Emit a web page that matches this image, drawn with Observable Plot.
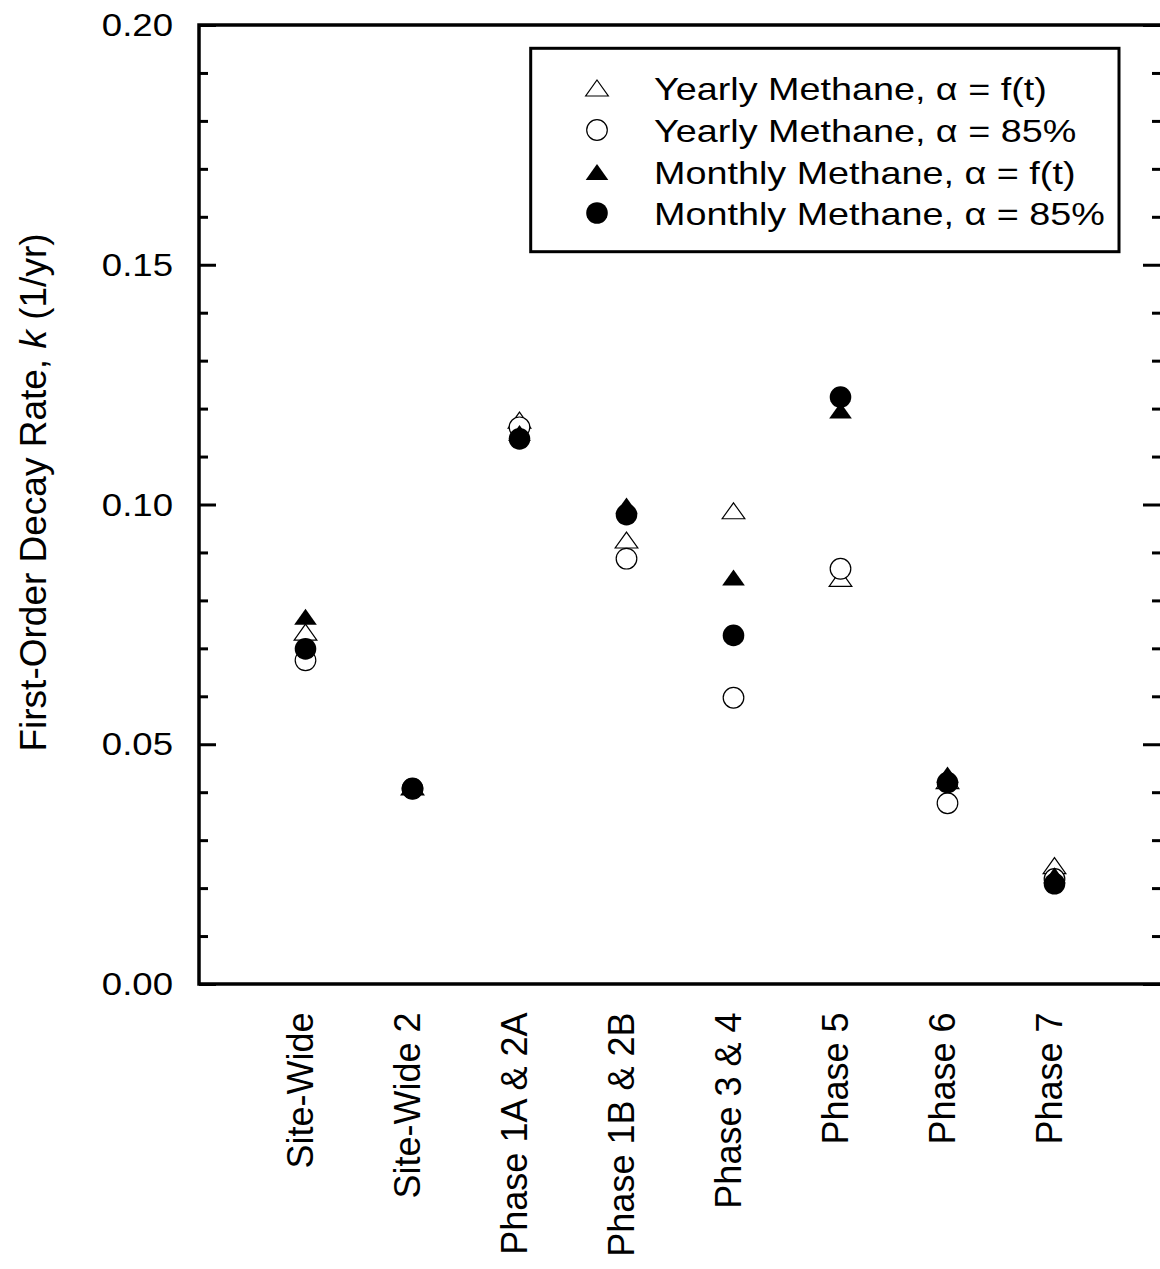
<!DOCTYPE html>
<html><head><meta charset="utf-8">
<script src="https://cdn.jsdelivr.net/npm/d3@7"></script>
<script src="https://cdn.jsdelivr.net/npm/@observablehq/plot@0.6"></script>
<style>html,body{margin:0;padding:0;background:#fff;overflow:hidden}</style>
</head><body><div id="chart"></div>
<script>
// ---- data ----
const categories = ["Site-Wide", "Site-Wide 2", "Phase 1A & 2A", "Phase 1B & 2B", "Phase 3 & 4", "Phase 5", "Phase 6", "Phase 7"];
const yearlyFt  = [0.0735, 0.0412, 0.1177, 0.0927, 0.0988, 0.0847, 0.0425, 0.0248]; // open triangle
const yearly85  = [0.0676, 0.0408, 0.1162, 0.0888, 0.0598, 0.0867, 0.0378, 0.0220]; // open circle
const monthlyFt = [0.0767, 0.0412, 0.1150, 0.0999, 0.0849, 0.1197, 0.0438, 0.0228]; // filled triangle
const monthly85 = [0.0700, 0.0409, 0.1138, 0.0980, 0.0728, 0.1225, 0.0421, 0.0210]; // filled circle
const seriesNames = ["Yearly Methane, \u03B1 = f(t)", "Yearly Methane, \u03B1 = 85%", "Monthly Methane, \u03B1 = f(t)", "Monthly Methane, \u03B1 = 85%"];
const majorTicks = [0, 0.05, 0.10, 0.15, 0.20];
const majorTickLabels = ["0.00", "0.05", "0.10", "0.15", "0.20"];
const minorTicks = [0.01, 0.02, 0.03, 0.04, 0.06, 0.07, 0.08, 0.09, 0.11, 0.12, 0.13, 0.14, 0.16, 0.17, 0.18, 0.19];
const yTitleParts = ["First-Order Decay Rate, ", "k", " (1/yr)"];

// ---- build ----
const FONT = "'Liberation Sans', Arial, Helvetica, sans-serif";
const W = 1160, H = 1269, ML = 199, MT = 25, MB = H - 984, MR = 0;
const FW = W - ML - MR;
const STRETCH = 1.18; // horizontal text in the reference is wide

const triangle = {
  draw(context, size) {
    const r = Math.sqrt(size / Math.PI);
    const w = 1.03 * r, h = 0.725 * r;
    context.moveTo(0, -h); context.lineTo(w, h); context.lineTo(-w, h); context.closePath();
  }
};
const styles = [
  {symbol: triangle, fill: "white", stroke: "black", strokeWidth: 1.2, r: 11},
  {symbol: "circle", fill: "white", stroke: "black", strokeWidth: 1.2, r: 10.3},
  {symbol: triangle, fill: "black", stroke: "none", strokeWidth: 0, r: 11},
  {symbol: "circle", fill: "black", stroke: "none", strokeWidth: 0, r: 10.8}
];
const seriesValues = [yearlyFt, yearly85, monthlyFt, monthly85];
const rows = seriesValues.map((vals, s) => categories.map((c, i) => ({category: c, k: vals[i], series: seriesNames[s]})));

function frameMark(index, scales, values, dim) {
  const g = d3.create("svg:g");
  const x0 = dim.marginLeft, x1 = dim.width - dim.marginRight;
  const yT = scales.y(0.2), yB = scales.y(0);
  g.append("path").attr("d", `M${x1 + 3},${yT}H${x0}V${yB}H${x1 + 3}`)
    .attr("fill", "none").attr("stroke", "black").attr("stroke-width", 3.5);
  return g.node();
}

function yTickLabelMark(index, scales, values, dim) {
  const g = d3.create("svg:g").attr("font-family", FONT).attr("font-size", 31).attr("fill", "black");
  majorTicks.forEach((v, i) => {
    g.append("text")
      .attr("transform", `translate(${dim.marginLeft - 26},${scales.y(v)}) scale(${STRETCH},1)`)
      .attr("text-anchor", "end").attr("dy", "0.36em").text(majorTickLabels[i]);
  });
  return g.node();
}

function yTitleMark(index, scales, values, dim) {
  const cy = (scales.y(0.2) + scales.y(0)) / 2 - 12;
  const t = d3.create("svg:text")
    .attr("transform", `translate(46,${cy}) rotate(-90)`)
    .attr("text-anchor", "middle")
    .attr("font-family", FONT).attr("font-size", 37).attr("fill", "black");
  yTitleParts.forEach((p, i) => t.append("tspan").attr("font-style", i === 1 ? "italic" : "normal").text(p));
  return t.node();
}

function legendMark(index, scales, values, dim) {
  const g = d3.create("svg:g").attr("font-family", FONT).attr("font-size", 32).attr("text-anchor", "start");
  g.append("rect").attr("x", 530.7).attr("y", 48.3).attr("width", 588.3).attr("height", 203.4)
    .attr("fill", "white").attr("stroke", "black").attr("stroke-width", 3);
  const rowsY = [88, 130, 172, 213];
  seriesNames.forEach((name, i) => {
    const st = styles[i];
    const sym = st.symbol === "circle" ? d3.symbolCircle : st.symbol;
    g.append("path").attr("transform", `translate(597,${rowsY[i]})`)
      .attr("d", d3.symbol(sym, Math.PI * st.r * st.r)())
      .attr("fill", st.fill).attr("stroke", st.stroke).attr("stroke-width", st.strokeWidth);
    g.append("text").attr("transform", `translate(654,${rowsY[i]}) scale(${STRETCH},1)`).attr("dy", "0.36em")
      .attr("text-anchor", "start").attr("fill", "black").text(name);
  });
  return g.node();
}

const chart = Plot.plot({
  width: W, height: H,
  marginLeft: ML, marginRight: MR, marginTop: MT, marginBottom: MB,
  style: {fontFamily: FONT, fontSize: "36px", background: "white", color: "black"},
  x: {type: "point", domain: categories, range: [198, 1161], padding: 1, axis: null},
  y: {domain: [0, 0.2], axis: null},
  marks: [
    Plot.tickY(majorTicks, {y: d => d, stroke: "black", strokeWidth: 3, insetRight: FW - 17}),
    Plot.tickY(minorTicks, {y: d => d, stroke: "black", strokeWidth: 3, insetRight: FW - 9}),
    Plot.tickY(majorTicks, {y: d => d, stroke: "black", strokeWidth: 3, insetLeft: FW - 17}),
    Plot.tickY(minorTicks, {y: d => d, stroke: "black", strokeWidth: 3, insetLeft: FW - 8}),
    frameMark,
    yTickLabelMark,
    Plot.text(categories, {x: d => d, text: d => d, frameAnchor: "bottom", rotate: -90, textAnchor: "end", lineAnchor: "bottom", dx: 7, dy: 28, fontSize: 36, fill: "black"}),
    yTitleMark,
    ...rows.map((data, s) => Plot.dot(data, {x: "category", y: "k", ...styles[s]})),
    legendMark
  ]
});
document.getElementById("chart").appendChild(chart);
</script>
</body></html>
